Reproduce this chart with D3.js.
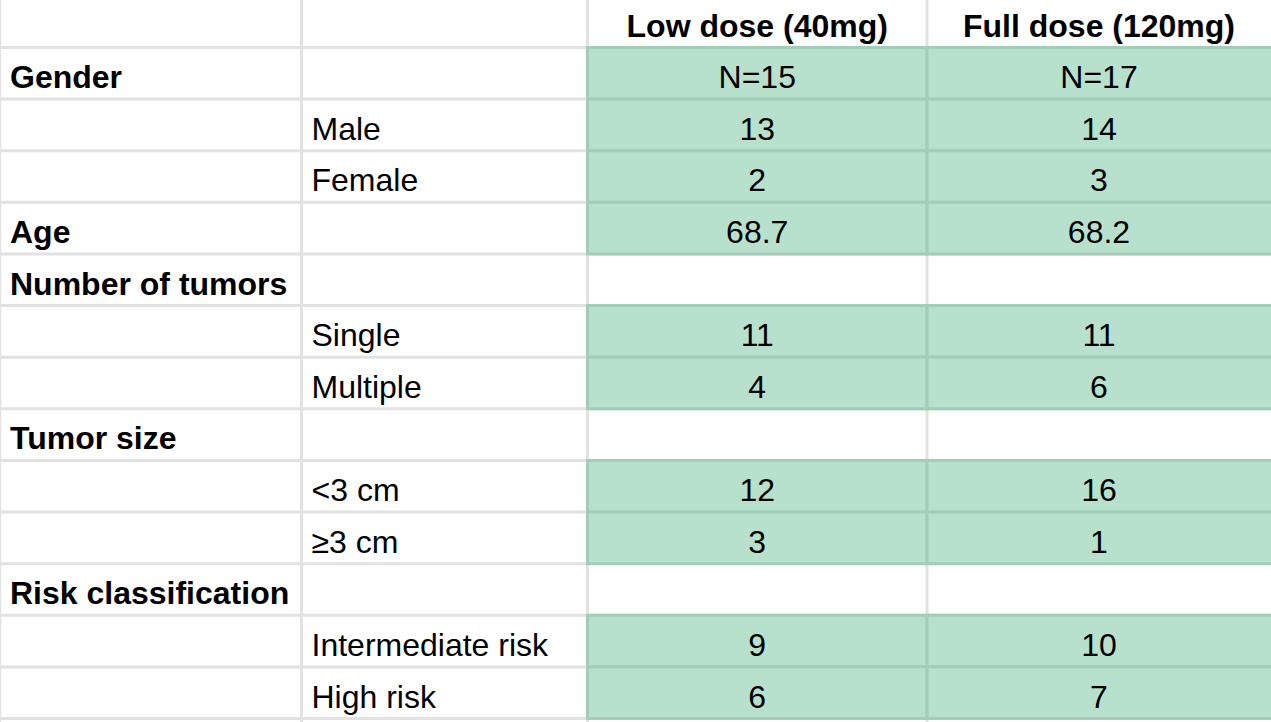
<!DOCTYPE html>
<html>
<head>
<meta charset="utf-8">
<script src="https://cdn.jsdelivr.net/npm/d3@7"></script>
<style>
  html, body { margin: 0; padding: 0; background: #fff; }
  svg { display: block; }
</style>
</head>
<body>
<div id="table"></div>
<script>
// table content
var columns = ["", "", "Low dose (40mg)", "Full dose (120mg)"];
var groupLabels = ["Gender", "", "", "Age", "Number of tumors", "", "", "Tumor size", "", "", "Risk classification", "", ""];
var subLabels = ["", "Male", "Female", "", "", "Single", "Multiple", "", "<3 cm", "\u22653 cm", "", "Intermediate risk", "High risk"];
var lowDose = ["N=15", "13", "2", "68.7", "", "11", "4", "", "12", "3", "", "9", "6"];
var fullDose = ["N=17", "14", "3", "68.2", "", "11", "6", "", "16", "1", "", "10", "7"];

var width = 1271,
    height = 722,
    fontSize = 32;

var svg = d3.select("#table")
    .append("svg")
    .attr("width", width)
    .attr("height", height);

// row i (0..13) bottom grid line; row 0 is the header
var y = d3.scaleLinear()
    .domain([0, 13])
    .range([47.5, 718.5]);

var colEdges = [0.5, 301.5, 587.5, 927, 1275];

var rows = groupLabels.map(function (g, i) {
    return {i: i + 1, group: g, sub: subLabels[i], low: lowDose[i], full: fullDose[i]};
});

var grid = svg.append("g")
    .attr("stroke", "#e2e2e2")
    .attr("stroke-width", 3);

grid.selectAll("line.h")
    .data(d3.range(0, 14))
    .enter()
    .append("line")
    .attr("class", "h")
    .attr("x1", 0)
    .attr("x2", width)
    .attr("y1", function (d) { return y(d); })
    .attr("y2", function (d) { return y(d); });

grid.selectAll("line.v")
    .data(colEdges.slice(0, 4))
    .enter()
    .append("line")
    .attr("class", "v")
    .attr("x1", function (d) { return d; })
    .attr("x2", function (d) { return d; })
    .attr("y1", 0)
    .attr("y2", height)
    .attr("stroke-width", function (d, i) { return i == 0 ? 1.5 : 3; });

// green cells
var cells = [];
rows.forEach(function (r) {
    [r.low, r.full].forEach(function (v, c) {
        if (v !== "") cells.push({row: r.i, col: c + 2, text: v});
    });
});

svg.append("g").selectAll("rect")
    .data(cells)
    .enter()
    .append("rect")
    .attr("x", function (d) { return colEdges[d.col]; })
    .attr("y", function (d) { return y(d.row - 1); })
    .attr("width", function (d) { return colEdges[d.col + 1] - colEdges[d.col]; })
    .attr("height", function (d) { return y(d.row) - y(d.row - 1); })
    .style("fill", "#b7e1cd")
    .style("stroke", "#a2cdb8")
    .style("stroke-width", 3);

function putText(sel, x, anchor, bold) {
    sel.attr("x", x)
        .attr("y", function (d) { return y(d.i) - 11; })
        .attr("font-family", "'Liberation Sans', Arial, sans-serif")
        .attr("font-size", fontSize)
        .attr("font-weight", bold ? "bold" : "normal")
        .attr("fill", "#000")
        .style("text-anchor", anchor);
}

var txt = svg.append("g");

// header
txt.selectAll("text.head")
    .data(columns.map(function (c, k) { return {i: 0, k: k, t: c}; }).filter(function (d) { return d.t; }))
    .enter()
    .append("text")
    .attr("class", "head")
    .text(function (d) { return d.t; })
    .call(putText, function (d) { return (colEdges[d.k] + Math.min(colEdges[d.k + 1], width)) / 2; }, "middle", true);

txt.selectAll("text.group")
    .data(rows.filter(function (r) { return r.group; }))
    .enter()
    .append("text")
    .attr("class", "group")
    .text(function (d) { return d.group; })
    .call(putText, function () { return 10; }, "start", true);

txt.selectAll("text.sub")
    .data(rows.filter(function (r) { return r.sub; }))
    .enter()
    .append("text")
    .attr("class", "sub")
    .text(function (d) { return d.sub; })
    .call(putText, function () { return colEdges[1] + 10; }, "start", false);

txt.selectAll("text.val")
    .data(cells.map(function (c) { return {i: c.row, col: c.col, t: c.text}; }))
    .enter()
    .append("text")
    .attr("class", "val")
    .text(function (d) { return d.t; })
    .call(putText, function (d) { return (colEdges[d.col] + Math.min(colEdges[d.col + 1], width)) / 2; }, "middle", false);
</script>
</body>
</html>
